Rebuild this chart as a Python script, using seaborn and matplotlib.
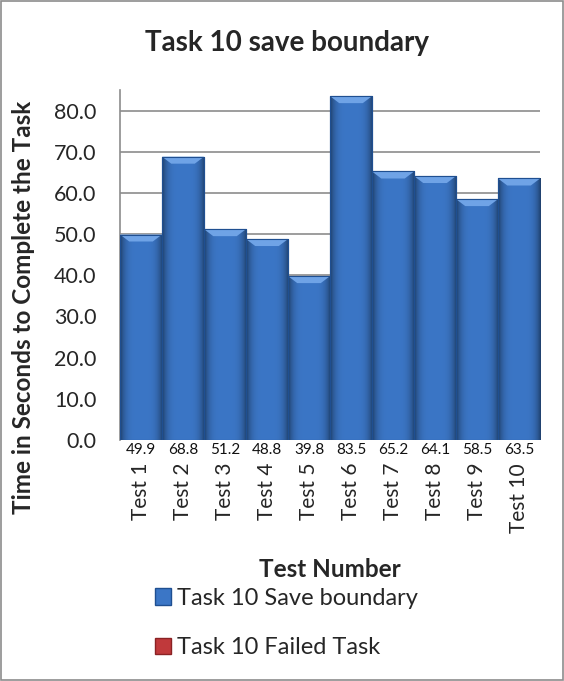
import numpy as np
import pandas as pd
import matplotlib
matplotlib.use("Agg")
import matplotlib.pyplot as plt
from matplotlib.patches import Polygon, Rectangle
import seaborn as sns

tests = ["Test 1", "Test 2", "Test 3", "Test 4", "Test 5",
         "Test 6", "Test 7", "Test 8", "Test 9", "Test 10"]
save_times = [49.9, 68.8, 51.2, 48.8, 39.8, 83.5, 65.2, 64.1, 58.5, 63.5]
y_ticks = [0, 10, 20, 30, 40, 50, 60, 70, 80]
series_names = ["Task 10 Save boundary", "Task 10 Failed Task"]

df = pd.DataFrame({"test": tests, "time": save_times})

sns.set_theme(style="white")
plt.rcParams["font.family"] = ["Lato", "DejaVu Sans"]

BLUE = "#3b76c6"
BLUE_DARK = "#1f4f91"
BLUE_LIGHT = "#6fa3e6"
RED = "#c0393b"
GRID = "#8c8c8c"

fig = plt.figure(figsize=(5.64, 6.81), dpi=100)
ax = fig.add_axes([0.2128, 0.3539, 0.7447, 0.5140])

sns.barplot(data=df, x="test", y="time", color=BLUE, width=1.0,
            saturation=1, edgecolor=BLUE_DARK, linewidth=0.8, ax=ax, zorder=3)

# shading: horizontal gradient inside each bar plus a lighter bevel on top
grad = np.linspace(-1, 1, 64)
shade = 1 - 0.45 * grad ** 4
base = np.array(matplotlib.colors.to_rgb(BLUE))
img = (base[None, :] * shade[:, None])[None, :, :]
for p in list(ax.patches):
    x0, w, h = p.get_x(), p.get_width(), p.get_height()
    im = ax.imshow(img, extent=[x0, x0 + w, 0, h], aspect="auto",
                   zorder=3.5, interpolation="bilinear")
    im.set_clip_path(p)
    bev_h = 1.7
    bev_w = 0.22 * w
    ax.add_patch(Polygon([[x0, h], [x0 + w, h], [x0 + w - bev_w, h - bev_h],
                          [x0 + bev_w, h - bev_h]], closed=True,
                         facecolor=BLUE_LIGHT, edgecolor="none", zorder=4))
    ax.add_patch(Rectangle((x0, 0), w, h, facecolor="none",
                           edgecolor=BLUE_DARK, linewidth=0.8, zorder=4.5))

ax.set_xlim(-0.5, len(tests) - 0.5)
ax.set_ylim(0, 85)
ax.set_yticks(y_ticks)
ax.set_yticklabels([f"{v:.1f}" for v in y_ticks], fontsize=15.5)
ax.yaxis.grid(True, color=GRID, linewidth=1.2, zorder=0)
ax.set_axisbelow(True)
for side in ["top", "right", "bottom"]:
    ax.spines[side].set_visible(False)
ax.spines["left"].set_color(GRID)
ax.spines["left"].set_linewidth(1.2)
ax.tick_params(axis="y", length=0, pad=17)
ax.tick_params(axis="x", length=0, pad=16.5)

# value row under the bars
for i, v in enumerate(save_times):
    ax.annotate(f"{v:.1f}", xy=(i, 0), xytext=(0, -7.5),
                textcoords="offset points", ha="center", va="center",
                fontsize=11, color="#111111", annotation_clip=False)

ax.set_xticks(range(len(tests)))
ax.set_xticklabels(tests, rotation=90, fontsize=15, va="top")
ax.set_xlabel("Test Number", fontsize=17.5, fontweight="bold")
ax.set_ylabel("Time in Seconds to Complete the Task", fontsize=17.5,
              fontweight="bold")
ax.xaxis.set_label_coords(0.5, -0.371)
ax.xaxis.label.set_va("center")
ax.yaxis.set_label_coords(-0.202, 0.38)

fig.text(0.509, 0.937, "Task 10 save boundary", ha="center", va="center",
         fontsize=20, fontweight="bold")

# legend below the axis title
handles = [Rectangle((0, 0), 1, 1, facecolor=BLUE, edgecolor=BLUE_DARK),
           Rectangle((0, 0), 1, 1, facecolor=RED, edgecolor="#8a2224")]
fig.legend(handles, series_names, loc="upper left",
           bbox_to_anchor=(0.275, 0.137), bbox_transform=fig.transFigure,
           frameon=False, fontsize=17, handlelength=0.68, handleheight=0.68,
           handletextpad=0.25, labelspacing=1.2, borderpad=0,
           borderaxespad=0)

# outer frame
fig.add_artist(Rectangle((0.001, 0.001), 0.997, 0.997, transform=fig.transFigure,
                         facecolor="none", edgecolor=GRID, linewidth=1.2))

fig.savefig("out.png", dpi=100)
